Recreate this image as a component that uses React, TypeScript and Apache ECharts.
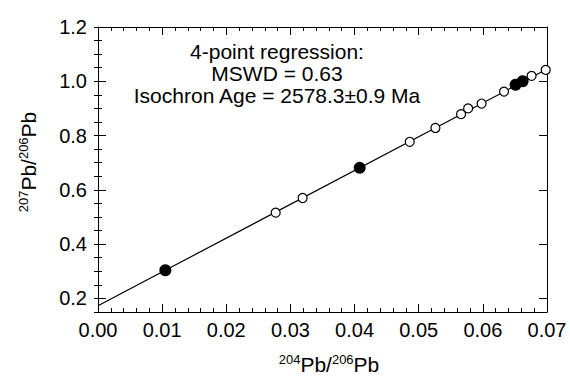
import React, { useEffect, useRef } from "react";
import * as echarts from "echarts";

const xTickLabels = ["0.00", "0.01", "0.02", "0.03", "0.04", "0.05", "0.06", "0.07"];
const yTickValues = [0.2, 0.4, 0.6, 0.8, 1.0, 1.2];

const filledX = [0.0105, 0.0408, 0.0651, 0.0662];
const filledY = [0.304, 0.681, 0.987, 1.0];

const openX = [0.0277, 0.0319, 0.0486, 0.0526, 0.0566, 0.0577, 0.0598, 0.0633, 0.0676, 0.0698];
const openY = [0.516, 0.57, 0.777, 0.828, 0.879, 0.9, 0.918, 0.962, 1.02, 1.042];

const regressionX = [0, 0.07];
const regressionY = [0.173, 1.045];

const annotationLines = ["4-point regression:", "MSWD = 0.63", "Isochron Age = 2578.3±0.9 Ma"];

const FONT = "'Liberation Sans', Arial, Helvetica, sans-serif";

export default function App() {
  const ref = useRef<HTMLDivElement>(null);

  useEffect(() => {
    if (!ref.current) return;
    const chart = echarts.init(ref.current, null, { renderer: "svg" });
    const black = "#000";
    const axisLineStyle = { color: black, width: 1 };
    const tickStyle = { color: black, width: 1 };

    const xCommon = {
      type: "value",
      min: 0,
      max: 0.07,
      interval: 0.01,
      splitLine: { show: false },
      axisLine: { show: true, onZero: false, lineStyle: axisLineStyle },
      axisTick: { show: true, inside: true, length: 8, lineStyle: tickStyle },
      minorTick: { show: true, splitNumber: 5, length: 4, lineStyle: tickStyle },
      minorSplitLine: { show: false },
    };

    const yMajor = {
      type: "value",
      min: 0.15,
      max: 1.2,
      interval: 0.05,
      splitLine: { show: false },
      axisLine: { show: true, onZero: false, lineStyle: axisLineStyle },
      axisTick: { show: true, inside: true, length: 8, lineStyle: tickStyle, customValues: yTickValues },
    };
    const yMinor = {
      type: "value",
      min: 0.15,
      max: 1.2,
      interval: 0.05,
      splitLine: { show: false },
      axisLine: { show: false },
      axisLabel: { show: false },
      axisTick: { show: true, inside: true, length: 4, lineStyle: tickStyle },
    };

    chart.setOption({
      animation: false,
      backgroundColor: "#fff",
      grid: { left: 98, right: 23, top: 27, bottom: 65, containLabel: false, outerBoundsMode: "none" },
      xAxis: [
        {
          ...xCommon,
          position: "bottom",
          axisLabel: {
            show: true,
            margin: 8,
            fontSize: 20,
            fontFamily: FONT,
            color: black,
            formatter: (v: number) => xTickLabels[Math.round(v / 0.01)] ?? "",
          },
        },
        { ...xCommon, position: "top", axisLabel: { show: false } },
      ],
      yAxis: [
        {
          ...yMajor,
          position: "left",
          axisLabel: {
            show: true,
            margin: 11,
            fontSize: 20,
            fontFamily: FONT,
            color: black,
            customValues: yTickValues,
            formatter: (v: number) => v.toFixed(1),
          },
        },
        { ...yMinor, position: "left" },
        { ...yMajor, position: "right", axisLabel: { show: false } },
        { ...yMinor, position: "right" },
      ],
      series: [
        {
          type: "line",
          xAxisIndex: 0,
          yAxisIndex: 0,
          data: regressionX.map((x, i) => [x, regressionY[i]]),
          showSymbol: false,
          symbol: "none",
          lineStyle: { color: black, width: 1.2 },
          z: 1,
          silent: true,
        },
        {
          type: "scatter",
          xAxisIndex: 0,
          yAxisIndex: 0,
          data: openX.map((x, i) => [x, openY[i]]),
          symbol: "circle",
          symbolSize: 9,
          clip: false,
          itemStyle: { color: "#fff", borderColor: black, borderWidth: 1.2, opacity: 1 },
          z: 3,
        },
        {
          type: "scatter",
          xAxisIndex: 0,
          yAxisIndex: 0,
          data: filledX.map((x, i) => [x, filledY[i]]),
          symbol: "circle",
          symbolSize: 12,
          clip: false,
          itemStyle: { color: black, borderColor: black, borderWidth: 0, opacity: 1 },
          z: 4,
        },
      ],
      graphic: [
        {
          type: "text",
          x: 277,
          y: 40,
          z: 10,
          style: {
            text: annotationLines.join("\n"),
            fontSize: 21,
            lineHeight: 22,
            fontFamily: FONT,
            fill: black,
            align: "center",
            verticalAlign: "top",
          },
        },
        {
          type: "text",
          x: 329,
          y: 364,
          style: {
            text: "{s|204}{b|Pb/}{s|206}{b|Pb}",
            align: "center",
            verticalAlign: "middle",
            fill: black,
            fontFamily: FONT,
            rich: {
              s: { fontSize: 13, fontFamily: FONT, fill: black, padding: [0, 0, 9, 0] },
              b: { fontSize: 21, fontFamily: FONT, fill: black },
            },
          },
        },
        {
          type: "text",
          x: 28,
          y: 162,
          rotation: Math.PI / 2,
          style: {
            text: "{s|207}{b|Pb/}{s|206}{b|Pb}",
            align: "center",
            verticalAlign: "middle",
            fill: black,
            fontFamily: FONT,
            rich: {
              s: { fontSize: 13, fontFamily: FONT, fill: black, padding: [0, 0, 9, 0] },
              b: { fontSize: 21, fontFamily: FONT, fill: black },
            },
          },
        },
      ],
    });

    return () => chart.dispose();
  }, []);

  return (
    <div
      ref={ref}
      style={{ position: "absolute", left: 0, top: 0, width: 570, height: 377, background: "#fff" }}
    />
  );
}
